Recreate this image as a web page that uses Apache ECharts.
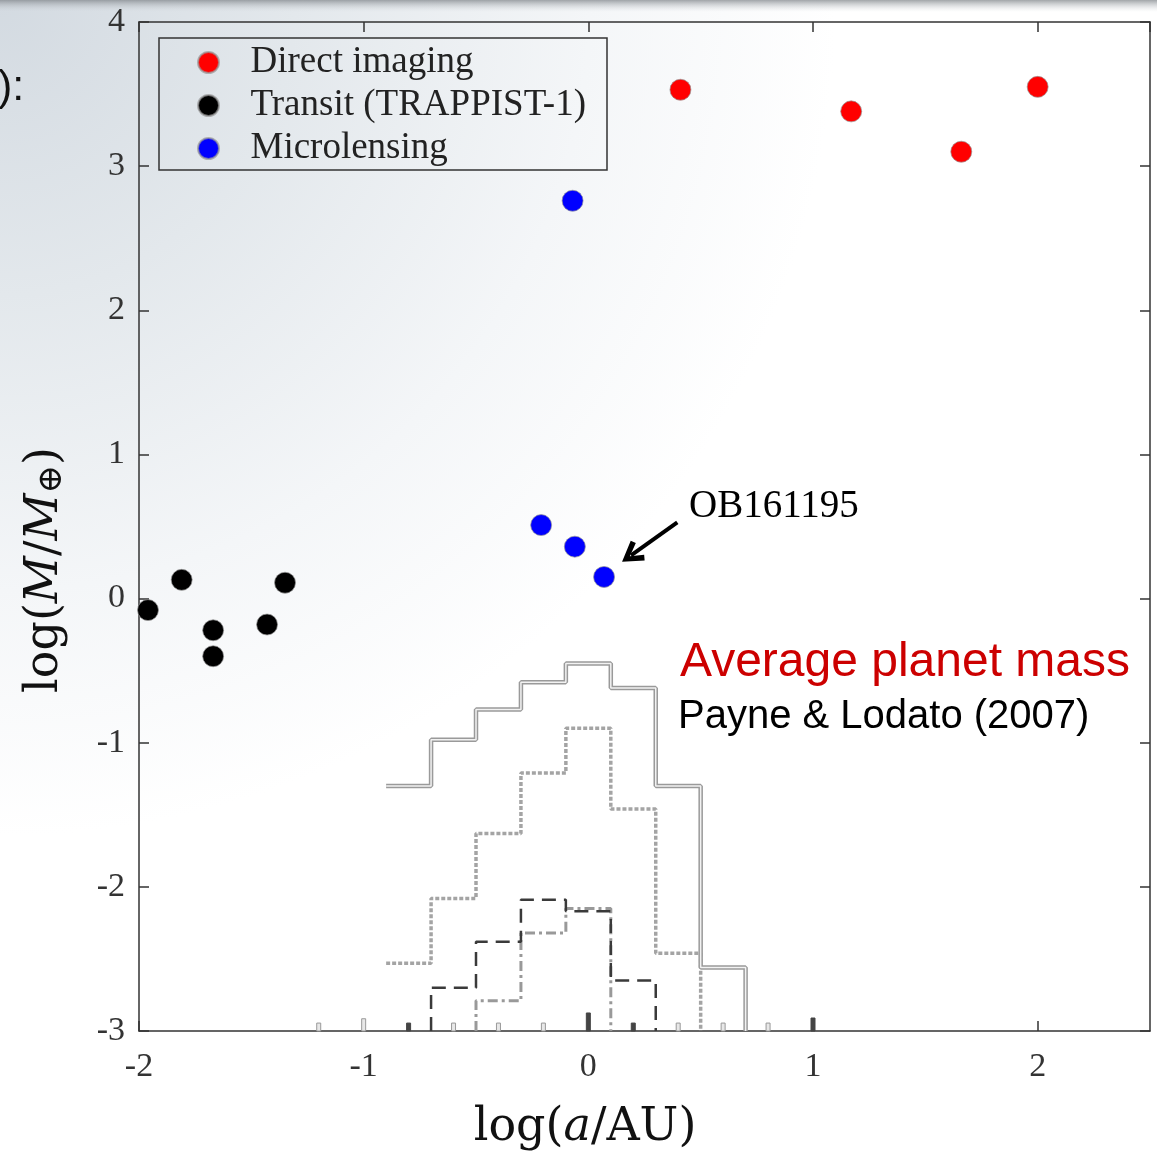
<!DOCTYPE html>
<html>
<head>
<meta charset="utf-8">
<script src="https://cdn.jsdelivr.net/npm/echarts@6/dist/echarts.min.js"></script>
<style>
  html, body { margin: 0; padding: 0; background: #fff; }
  #chart { width: 1157px; height: 1157px; }
</style>
</head>
<body>
<div id="chart"></div>
<script>
// scatter points: log(a/AU), log(M/Mearth)
const directX = [0.41, 1.17, 1.66, 2.00];
const directY = [3.53, 3.38, 3.10, 3.55];
const transitX = [-1.96, -1.81, -1.67, -1.67, -1.43, -1.35];
const transitY = [-0.08, 0.13, -0.22, -0.40, -0.18, 0.11];
const microX = [-0.07, -0.21, -0.06, 0.07];
const microY = [2.76, 0.51, 0.36, 0.15];

// Payne & Lodato (2007) step histograms (null = below the axis)
const binEdges = [-0.9, -0.7, -0.5, -0.3, -0.1, 0.1, 0.3, 0.5, 0.7];
const solidMass = [-1.30, -0.98, -0.77, -0.58, -0.45, -0.62, -1.30, -2.56];
const dottedMass = [-2.53, -2.08, -1.63, -1.21, -0.90, -1.46, -2.46];
const dashedMass = [null, -2.70, -2.38, -2.09, -2.17, -2.65];
const dashDotMass = [null, null, -2.79, -2.32, -2.15];

// little stubs sitting on the bottom axis
const stubX = [-1.2, -1.0, -0.8, -0.6, -0.4, -0.2, 0, 0.2, 0.4, 0.6, 0.8, 1.0];
const stubH = [0.055, 0.085, 0.055, 0.055, 0.055, 0.055, 0.125, 0.055, 0.055, 0.055, 0.055, 0.09];
const darkStubs = [-0.8, 0, 0.2, 1.0];

const xTicks = [-2, -1, 0, 1, 2];
const yTicks = [-3, -2, -1, 0, 1, 2, 3, 4];

const FLOOR = -3;
const SERIF = 'Liberation Serif';

function zip(xs, ys) {
  return xs.map((x, i) => [x, ys[i]]);
}

// turn bin values into corner points for a step line
function stepPoints(values) {
  const pts = [];
  let first = -1;
  let last = -1;
  values.forEach((v, i) => {
    if (v == null) return;
    if (first < 0) {
      first = i;
      if (i > 0) pts.push([binEdges[i], FLOOR]);
    }
    pts.push([binEdges[i], v]);
    last = i;
  });
  pts.push([binEdges[last + 1], values[last]]);
  pts.push([binEdges[last + 1], FLOOR]);
  return pts;
}

function stepSeries(values, lineStyle, z) {
  return {
    type: 'line',
    step: 'end',
    data: stepPoints(values),
    showSymbol: false,
    symbol: 'none',
    silent: true,
    z: z,
    lineStyle: lineStyle
  };
}

function frameAxis(pos, extra) {
  return Object.assign({
    type: 'value',
    interval: 1,
    position: pos,
    axisLine: { onZero: false, lineStyle: { color: '#333', width: 1.5 } },
    axisTick: { inside: true, length: 10, lineStyle: { color: '#333', width: 1.5 } },
    axisLabel: { show: false },
    splitLine: { show: false }
  }, extra);
}

const chart = echarts.init(document.getElementById('chart'));

const dotItem = { opacity: 1, borderColor: 'rgba(150,150,150,0.7)', borderWidth: 1 };

const tickLabel = {
  show: true,
  fontFamily: SERIF,
  fontSize: 34,
  color: '#333'
};

chart.setOption({
  animation: false,
  backgroundColor: new echarts.graphic.RadialGradient(0, 0, 0.85, [
    { offset: 0, color: '#d3dae1' },
    { offset: 0.3, color: '#e3e8ec' },
    { offset: 0.6, color: '#f4f6f8' },
    { offset: 0.85, color: '#ffffff' }
  ]),
  grid: { left: 139, right: 7, top: 22, bottom: 126 },
  legend: {
    data: ['Direct imaging', 'Transit (TRAPPIST-1)', 'Microlensing'],
    orient: 'vertical',
    left: 197,
    top: 44,
    padding: 0,
    itemGap: 6,
    itemWidth: 74,
    itemHeight: 21,
    icon: 'circle',
    textStyle: { fontFamily: SERIF, fontSize: 37, lineHeight: 30, color: '#222' }
  },
  xAxis: [
    frameAxis('bottom', {
      min: -2,
      max: 2.5,
      axisLabel: Object.assign({}, tickLabel, {
        margin: 19,
        showMaxLabel: false,
        formatter: (v) => (xTicks.indexOf(v) >= 0 ? String(v) : '')
      })
    }),
    frameAxis('top', { min: -2, max: 2.5 })
  ],
  yAxis: [
    frameAxis('left', {
      min: -3,
      max: 4,
      axisLabel: Object.assign({}, tickLabel, {
        margin: 14,
        formatter: (v) => (yTicks.indexOf(v) >= 0 ? String(v) : '')
      })
    }),
    frameAxis('right', { min: -3, max: 4 })
  ],
  series: [
    stepSeries(dottedMass, { color: '#a4a4a4', width: 3.5, type: [4, 2] }, 2),
    stepSeries(dashDotMass, { color: '#999', width: 3, type: [10, 4, 3, 4] }, 2),
    stepSeries(solidMass, { color: '#9a9a9a', width: 4.5 }, 3),
    stepSeries(solidMass, { color: '#f2f2f2', width: 1.5 }, 3),
    stepSeries(dashedMass, { color: '#3a3a3a', width: 2.5, type: [14, 8] }, 4),
    {
      type: 'custom',
      silent: true,
      z: 4,
      data: zip(stubX, stubH),
      renderItem: (params, api) => {
        const x = api.value(0);
        const h = api.value(1);
        const p0 = api.coord([x, FLOOR]);
        const p1 = api.coord([x, FLOOR + h]);
        const dark = darkStubs.indexOf(x) >= 0;
        return {
          type: 'rect',
          shape: { x: p0[0] - 2, y: p1[1], width: 4, height: p0[1] - p1[1] },
          style: { fill: dark ? '#444' : '#e8e8e8', stroke: dark ? '#444' : '#999', lineWidth: 1 }
        };
      }
    },
    {
      name: 'Direct imaging',
      type: 'scatter',
      data: zip(directX, directY),
      itemStyle: Object.assign({ color: '#ff0000' }, dotItem),
      symbolSize: 21,
      z: 5
    },
    {
      name: 'Transit (TRAPPIST-1)',
      type: 'scatter',
      data: zip(transitX, transitY),
      itemStyle: Object.assign({ color: '#000000' }, dotItem),
      symbolSize: 21,
      z: 5
    },
    {
      name: 'Microlensing',
      type: 'scatter',
      data: zip(microX, microY),
      itemStyle: Object.assign({ color: '#0000ff' }, dotItem),
      symbolSize: 21,
      z: 5,
      markLine: {
        silent: true,
        animation: false,
        symbol: ['none', 'path://M10,0 L20,17 L16,19.5 L10,8.5 L4,19.5 L0,17 Z'],
        symbolSize: [24, 22],
        label: { show: false },
        lineStyle: { color: '#000', width: 4, type: 'solid', opacity: 1 },
        data: [[{ coord: [0.396, 0.528] }, { coord: [0.19, 0.30] }]]
      }
    }
  ],
  graphic: [
    {
      type: 'rect',
      left: 0,
      top: 0,
      z: 0,
      shape: { width: 1157, height: 12 },
      style: {
        fill: new echarts.graphic.LinearGradient(0, 0, 0, 1, [
          { offset: 0, color: 'rgba(130,135,140,0.75)' },
          { offset: 1, color: 'rgba(210,215,220,0)' }
        ])
      }
    },
    {
      type: 'rect',
      x: 159,
      y: 38,
      z: 10,
      shape: { width: 448, height: 132 },
      style: { fill: 'none', stroke: '#333', lineWidth: 1.5 }
    },
    {
      type: 'text',
      x: -2,
      y: 88,
      style: {
        text: '):',
        font: '43px "Liberation Sans"',
        fill: '#111',
        align: 'left',
        verticalAlign: 'middle'
      }
    },
    {
      type: 'text',
      x: 45,
      y: 570,
      rotation: Math.PI / 2,
      style: {
        text: 'log({i|M}/{i|M}{s|⊕})',
        font: '46px "DejaVu Serif"',
        fill: '#111',
        align: 'center',
        verticalAlign: 'middle',
        rich: {
          i: { font: 'italic 46px "DejaVu Serif"', fill: '#111' },
          s: { font: '34px "DejaVu Serif"', fill: '#111', padding: [14, 0, 0, 0] }
        }
      }
    },
    {
      type: 'text',
      x: 585,
      y: 1128,
      style: {
        text: 'log({i|a}/AU)',
        font: '46px "DejaVu Serif"',
        fill: '#111',
        align: 'center',
        verticalAlign: 'middle',
        rich: {
          i: { font: 'italic 46px "DejaVu Serif"', fill: '#111' }
        }
      }
    },
    {
      type: 'text',
      x: 680,
      y: 663,
      style: {
        text: 'Average planet mass',
        font: '48px "Liberation Sans"',
        fill: '#cc0000',
        align: 'left',
        verticalAlign: 'middle'
      }
    },
    {
      type: 'text',
      x: 678,
      y: 717,
      style: {
        text: 'Payne & Lodato (2007)',
        font: '40px "Liberation Sans"',
        fill: '#000',
        align: 'left',
        verticalAlign: 'middle'
      }
    },
    {
      type: 'text',
      x: 689,
      y: 507,
      style: {
        text: 'OB161195',
        font: '39px "Liberation Serif"',
        fill: '#000',
        align: 'left',
        verticalAlign: 'middle'
      }
    }
  ]
});
</script>
</body>
</html>
